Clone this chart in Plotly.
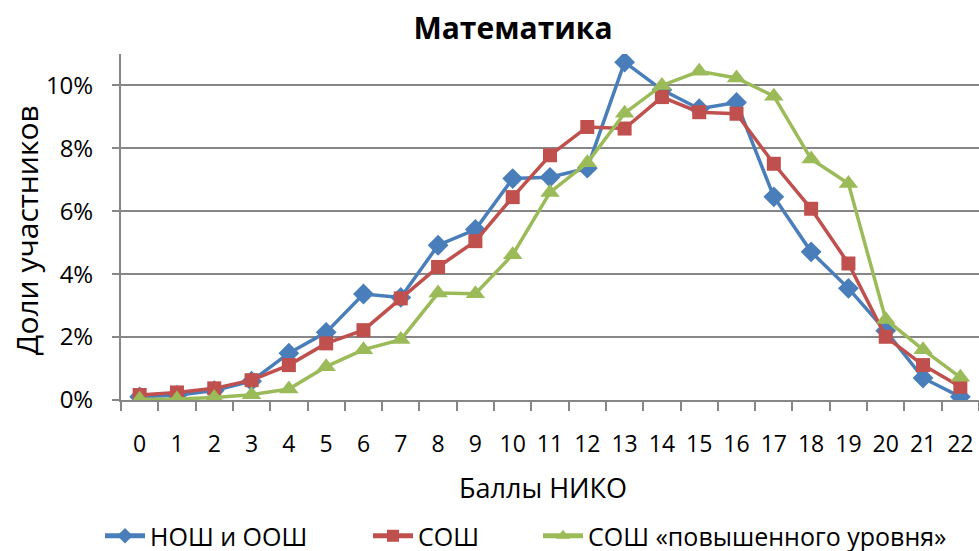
import plotly.graph_objects as go

scores = [str(i) for i in range(23)]
nosh_oosh = [0.10, 0.15, 0.30, 0.60, 1.49, 2.15, 3.37, 3.26, 4.92, 5.42, 7.04, 7.08, 7.37, 10.74, 9.86,
             9.26, 9.46, 6.46, 4.71, 3.55, 2.20, 0.70, 0.10]
sosh = [0.16, 0.24, 0.37, 0.63, 1.11, 1.80, 2.22, 3.23, 4.23, 5.05, 6.45, 7.78, 8.68, 8.63, 9.63,
        9.15, 9.10, 7.51, 6.08, 4.34, 2.01, 1.11, 0.42]
sosh_high = [0.02, 0.03, 0.08, 0.17, 0.35, 1.06, 1.60, 1.92, 3.40, 3.38, 4.62, 6.60, 7.54, 9.12, 10.00,
             10.45, 10.24, 9.66, 7.66, 6.88, 2.56, 1.60, 0.72]
series_names = ["НОШ и ООШ", "СОШ", "СОШ «повышенного уровня»"]
colors = ["#4A7EBB", "#C0504D", "#9BBB59"]
symbols = ["diamond", "square", "triangle-up"]
sizes = [16, 14, 17]
legend_ids = ["legend", "legend2", "legend3"]
legend_x_px = [100, 368, 538]

fig = go.Figure()
for name, vals, c, s, sz, lg in zip(series_names, [nosh_oosh, sosh, sosh_high], colors, symbols, sizes, legend_ids):
    fig.add_trace(go.Scatter(
        x=scores, y=[v / 100 for v in vals], name=name, mode="lines+markers",
        line=dict(color=c, width=3.5),
        marker=dict(symbol=s, size=sz, color=c),
        legend=lg,
    ))

font = "Open Sans, DejaVu Sans, sans-serif"
PL, PR, PT, PB, W, H = 121, 0, 54, 151, 979, 551
pw, ph = W - PL - PR, H - PT - PB

legend_common = dict(orientation="h", yanchor="bottom", y=-(PB + 8) / ph, xanchor="left",
                     font=dict(size=25), itemwidth=40, borderwidth=0, bgcolor="rgba(0,0,0,0)",
                     itemsizing="constant")
legends = {}
for lg, px in zip(legend_ids, legend_x_px):
    legends[lg] = dict(legend_common, x=(px - PL) / pw)

fig.update_layout(
    width=W, height=H,
    margin=dict(l=PL, r=PR, t=PT, b=PB, autoexpand=False),
    paper_bgcolor="white", plot_bgcolor="white",
    font=dict(family=font, color="black", size=20),
    title=dict(text="<b>Математика</b>", x=0.524, xanchor="center", y=0.949, yanchor="middle",
               font=dict(size=30, family=font)),
    showlegend=True,
    annotations=[
        dict(text="Доли участников", xref="paper", yref="paper", x=-0.1107, y=0.491,
             xanchor="center", yanchor="middle", textangle=-90, showarrow=False,
             font=dict(size=30)),
        dict(text="Баллы НИКО", xref="paper", yref="paper", x=0.492, y=-0.254,
             xanchor="center", yanchor="middle", showarrow=False, font=dict(size=27)),
    ],
    **legends,
)
fig.update_xaxes(
    type="category", tickson="boundaries", ticks="outside", ticklen=9, tickwidth=2,
    tickcolor="#868686", showline=True, linecolor="#868686", linewidth=2,
    showgrid=False, tickfont=dict(size=23), ticklabelstandoff=22, automargin=False,
    range=[-0.5, 22.5],
)
fig.update_yaxes(
    range=[0, 0.11], dtick=0.02, tickformat=".0%", ticks="outside", ticklen=7, tickwidth=2,
    tickcolor="#868686", showline=True, linecolor="#868686", linewidth=2,
    showgrid=True, gridcolor="#868686", gridwidth=2, zeroline=False,
    tickfont=dict(size=24), ticklabelstandoff=14, automargin=False,
)
fig.write_html("out.html", config={"displayModeBar": False},
               post_script="document.body.style.margin='0';document.body.style.overflow='hidden';")
